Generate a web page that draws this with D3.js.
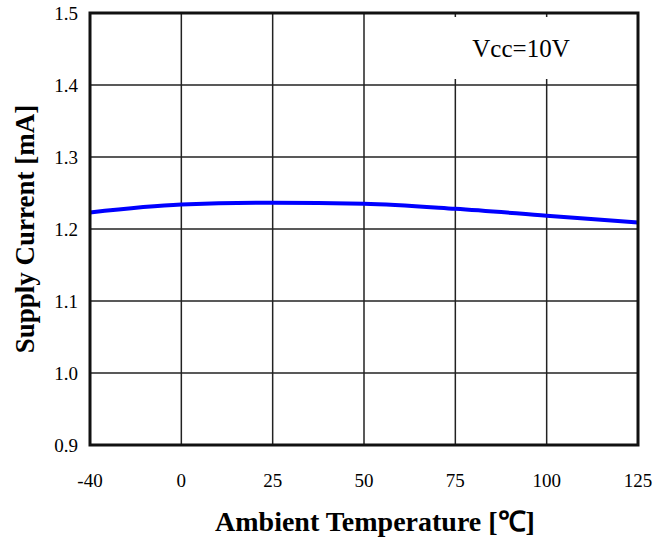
<!DOCTYPE html>
<html>
<head>
<meta charset="utf-8">
<script src="https://cdn.jsdelivr.net/npm/d3@7"></script>
<style>
  body { margin: 0; background: #fff; }
  svg { display: block; }
</style>
</head>
<body>
<div class="svg-container"></div>
<script>
// chart values
const temps = [-40, 0, 25, 50, 75, 100, 125];
const current = [1.223, 1.234, 1.2365, 1.235, 1.228, 1.2185, 1.209];
const yTicks = [0.9, 1.0, 1.1, 1.2, 1.3, 1.4, 1.5];
const xLabel = 'Ambient Temperature [℃]';
const yLabel = 'Supply Current [mA]';
const note = 'Vcc=10V';

//required dimensions
const W = 670, H = 541;
const margin = { top: 13, right: 32, bottom: 96, left: 90 };
const width = W - margin.left - margin.right;
const height = H - margin.top - margin.bottom;
const serif = '"Liberation Serif", "Times New Roman", Times, serif';

const svg = d3.select('.svg-container')
    .append('svg')
    .attr('width', W)
    .attr('height', H);

// x grid positions are evenly spaced per tick (not linear in temperature)
const xScale = d3.scaleLinear()
    .domain(temps)
    .range(temps.map((t, i) => margin.left + i * width / (temps.length - 1)));

const yScale = d3.scaleLinear()
    .domain([0.9, 1.5])
    .range([margin.top + height, margin.top]);

// grid lines
svg.append('g')
    .selectAll('line')
    .data(temps.slice(1, -1))
    .join('line')
    .attr('x1', d => xScale(d)).attr('x2', d => xScale(d))
    .attr('y1', margin.top).attr('y2', margin.top + height)
    .attr('stroke', '#222').attr('stroke-width', 1.5);

svg.append('g')
    .selectAll('line')
    .data(yTicks.slice(1, -1))
    .join('line')
    .attr('x1', margin.left).attr('x2', margin.left + width)
    .attr('y1', d => yScale(d)).attr('y2', d => yScale(d))
    .attr('stroke', '#222').attr('stroke-width', 1.5);

// white box behind the condition label
svg.append('rect')
    .attr('x', 440).attr('y', 17)
    .attr('width', 160).attr('height', 62)
    .attr('fill', '#fff');

svg.append('text')
    .attr('x', 521).attr('y', 57)
    .attr('text-anchor', 'middle')
    .attr('font-family', serif)
    .attr('font-size', 25)
    .text(note);

// data line
const line = d3.line()
    .x((d, i) => xScale(temps[i]))
    .y(d => yScale(d))
    .curve(d3.curveMonotoneX);

svg.append('path')
    .datum(current)
    .attr('d', line)
    .attr('fill', 'none')
    .attr('stroke', '#0000ff')
    .attr('stroke-width', 4);

// frame
svg.append('rect')
    .attr('x', margin.left).attr('y', margin.top)
    .attr('width', width).attr('height', height)
    .attr('fill', 'none')
    .attr('stroke', '#111').attr('stroke-width', 3);

// tick labels
svg.selectAll('.x-tick')
    .data(temps)
    .join('text')
    .attr('class', 'x-tick')
    .attr('x', d => xScale(d))
    .attr('y', margin.top + height + 42)
    .attr('text-anchor', 'middle')
    .attr('font-family', serif)
    .attr('font-size', 19)
    .text(d => d);

svg.selectAll('.y-tick')
    .data(yTicks)
    .join('text')
    .attr('class', 'y-tick')
    .attr('x', margin.left - 12)
    .attr('y', d => yScale(d))
    .attr('dy', '0.35em')
    .attr('text-anchor', 'end')
    .attr('font-family', serif)
    .attr('font-size', 19)
    .text(d3.format('.1f'));

// axis titles
svg.append('text')
    .attr('x', 375).attr('y', 531)
    .attr('text-anchor', 'middle')
    .attr('font-family', serif)
    .attr('font-weight', 'bold')
    .attr('font-size', 28)
    .text(xLabel);

svg.append('text')
    .attr('transform', `translate(34, ${yScale(1.2)}) rotate(-90)`)
    .attr('text-anchor', 'middle')
    .attr('font-family', serif)
    .attr('font-weight', 'bold')
    .attr('font-size', 27)
    .text(yLabel);
</script>
</body>
</html>
